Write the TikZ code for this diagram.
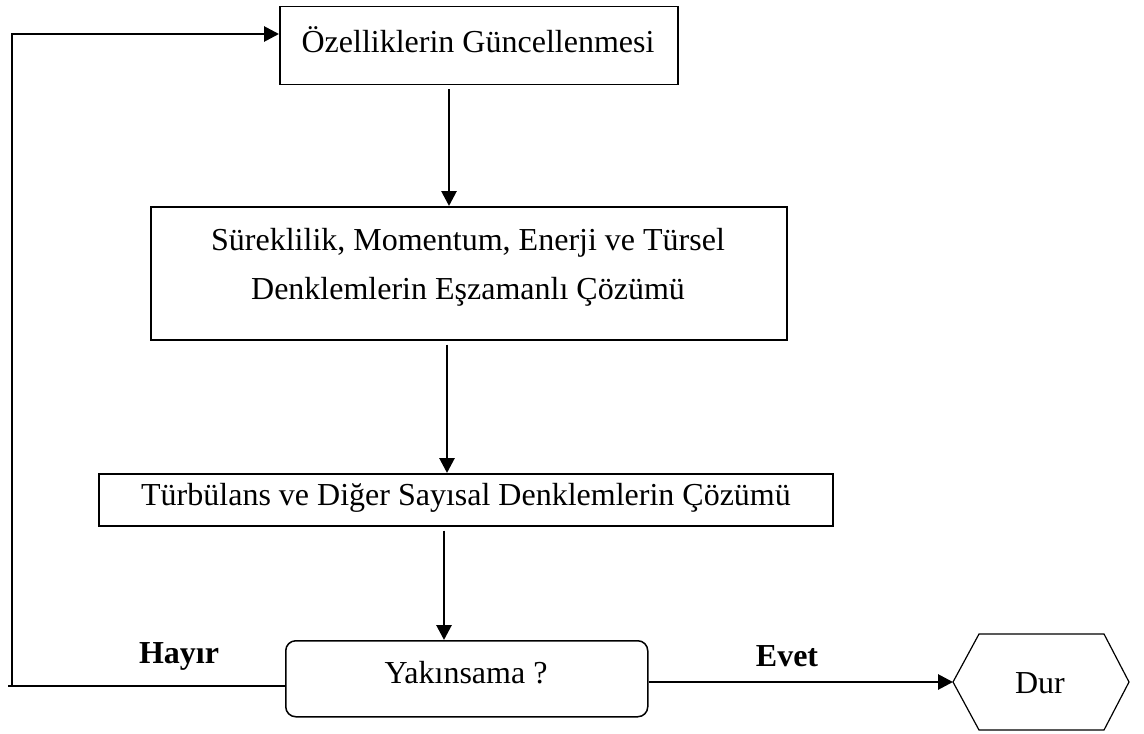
\documentclass[tikz,border=0pt]{standalone}
\usepackage{fontspec}
\setmainfont{Liberation Serif}
\usetikzlibrary{arrows.meta}
\begin{document}
\begin{tikzpicture}[x=0.5pt,y=-0.5pt,
  box/.style={draw,line width=0.75pt,inner sep=0pt,anchor=north west},
  lbl/.style={font=\fontsize{16}{19}\selectfont,inner sep=0pt},
  blbl/.style={font=\fontsize{16}{19}\selectfont\bfseries,inner sep=0pt},
  arr/.style={-{Triangle[length=7.5pt,width=7.5pt]},line width=1.4pt},
  ln/.style={line width=1.3pt},
  thin/.style={line width=0.8pt}]
\useasboundingbox (0,0) rectangle (1144,733);
% boxes
\node[box,minimum width=199pt,minimum height=39pt] (b1) at (279,6) {};
\node[lbl] (t1) at (478,40) {Özelliklerin Güncellenmesi};
\node[box,minimum width=318pt,minimum height=66.5pt] (b2) at (150,206) {};
\node[lbl] (t2a) at (468,243) {Süreklilik, Momentum, Enerji ve Türsel};
\node[lbl] (t2b) at (468,292) {Denklemlerin Eşzamanlı Çözümü};
\node[box,minimum width=367pt,minimum height=26pt] (b3) at (98,473) {};
\node[lbl] (t3) at (466,498) {Türbülans ve Diğer Sayısal Denklemlerin Çözümü};
\node[box,rounded corners=5pt,minimum width=181pt,minimum height=38pt] (b4) at (285,640) {};
\node[lbl] (t4) at (466,673) {Yakınsama ?};
% hexagon
\coordinate (hl) at (953,682);
\coordinate (hr) at (1129,682);
\draw[line width=0.6pt] (hl) -- (979,634) -- (1104,634) -- (hr) -- (1104,730) -- (979,730) -- cycle;
\node[lbl] (t5) at (1040,683) {Dur};
% labels
\node[blbl] (hayir) at (179,656) {Hayır};
\node[blbl] (evet) at (787,656) {Evet};
% connectors
\coordinate (xa) at (449,0);
\coordinate (xb) at (447,0);
\coordinate (xc) at (444,0);
\draw[arr] ([yshift=-2pt]b1.south -| xa) -- (b2.north -| xa);
\draw[arr] ([yshift=-2pt]b2.south -| xb) -- (b3.north -| xb);
\draw[arr] ([yshift=-2pt]b3.south -| xc) -- (b4.north -| xc);
\coordinate (fb) at (12,686);
\coordinate (ft) at (12,34);
\coordinate (fe) at (8,686);
\draw[ln] (b4.west |- fb) -- (fe);
\draw[thin] (fb) -- (ft);
\draw[arr] ([xshift=-0.4pt]ft) -- (b1.west |- ft);
\draw[arr] (b4.east |- hl) -- (hl);
\end{tikzpicture}
\end{document}
